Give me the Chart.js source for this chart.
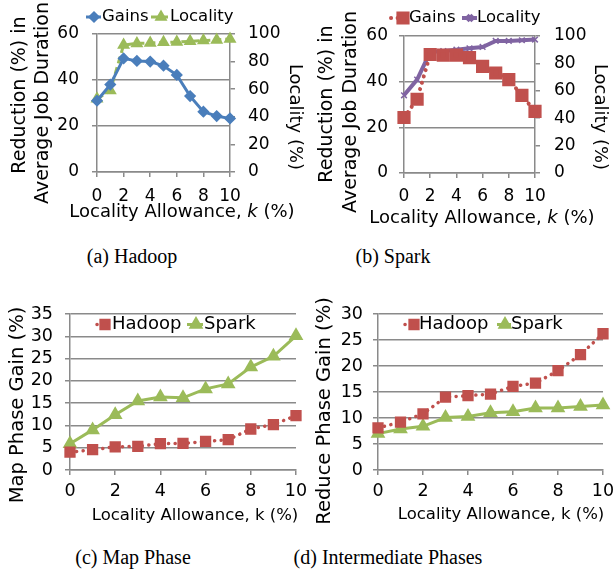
<!DOCTYPE html>
<html>
<head>
<meta charset="utf-8">
<script src="https://cdn.jsdelivr.net/npm/chart.js"></script>
<style>
body { margin: 0; background: #fff; width: 613px; height: 569px; position: relative; overflow: hidden; }
canvas { position: absolute; }
.cap { position: absolute; font-family: "Liberation Serif", serif; font-size: 20px; line-height: 22px; color: #000; white-space: nowrap; transform: translateX(-50%); }
</style>
</head>
<body>
<canvas id="chartA" width="305" height="235" style="left:0;top:0;width:305px;height:235px"></canvas>
<canvas id="chartB" width="308" height="235" style="left:305px;top:0;width:308px;height:235px"></canvas>
<canvas id="chartC" width="310" height="245" style="left:0;top:285px;width:310px;height:245px"></canvas>
<canvas id="chartD" width="308" height="245" style="left:305px;top:285px;width:308px;height:245px"></canvas>
<div class="cap" style="left:132px;top:245px">(a) Hadoop</div>
<div class="cap" style="left:393px;top:245px">(b) Spark</div>
<div class="cap" style="left:133px;top:546px">(c) Map Phase</div>
<div class="cap" style="left:388px;top:546px">(d) Intermediate Phases</div>
<script>
// data
var kVals = [0, 1, 2, 3, 4, 5, 6, 7, 8, 9, 10];
var kTicks = [0, 2, 4, 6, 8, 10];
var hadoopGains = [31, 38, 49.4, 48.3, 48, 46.2, 42.2, 33, 26.2, 24.3, 23.3];
var hadoopLocality = [53, 59, 92, 93.2, 93.5, 94, 94.2, 94.7, 95.2, 95.7, 96.4];
var sparkGains = [24.3, 32.3, 51.9, 51.6, 51.6, 50.5, 46.7, 43.8, 40.9, 34, 27];
var sparkLocality = [56.7, 68.2, 88.3, 89, 90, 91, 92, 96.4, 96.4, 96.9, 97.4];
var mapHadoop = [4, 4.55, 5.2, 5.3, 5.9, 5.95, 6.4, 6.8, 9.2, 10.2, 12.2];
var mapSpark = [5.9, 9, 12.4, 15.5, 16.4, 16.2, 18.2, 19.3, 23.1, 25.5, 30.1];
var reduceHadoop = [8.1, 9.2, 10.8, 14, 14.3, 14.6, 16.1, 16.7, 19.1, 22.2, 26.2];
var reduceSpark = [7, 7.9, 8.4, 10.1, 10.3, 11, 11.2, 11.9, 11.9, 12.2, 12.5];
var gainTicks = [0, 20, 40, 60];
var localityTicks = [0, 20, 40, 60, 80, 100];
var mapTicks = [0, 5, 10, 15, 20, 25, 30, 35];
var reduceTicks = [0, 5, 10, 15, 20, 25, 30];

var BLUE = '#4A7EBB', GREEN = '#9BBB59', RED = '#C0504D', PURPLE = '#8064A2';
var GRID = '#8a8a8a';
var FONT = '"DejaVu Sans"';

Chart.defaults.font.family = 'DejaVu Sans';
Chart.defaults.color = '#000';
Chart.defaults.animation = false;

function fixTicks(vals) {
    return function (s) { s.ticks = vals.map(function (v) { return { value: v }; }); };
}

function xScale(h, pad, size) {
    return {
        type: 'linear', min: 0, max: 10,
        grid: { drawOnChartArea: false, color: GRID, lineWidth: 1.5, tickLength: 5 },
        border: { color: GRID, width: 1.5 },
        ticks: { font: { size: size }, padding: pad, maxRotation: 0, autoSkip: false },
        afterBuildTicks: fixTicks(kTicks),
        afterFit: function (s) { s.height = h; s.paddingLeft = 0; s.paddingRight = 0; }
    };
}

function yScale(pos, w, max, vals, onArea, pad, size) {
    return {
        type: 'linear', position: pos, min: 0, max: max,
        grid: { drawOnChartArea: onArea, color: GRID, lineWidth: 1.5, tickLength: 5 },
        border: { color: GRID, width: 1.5 },
        ticks: { font: { size: size }, padding: pad, autoSkip: false },
        afterBuildTicks: fixTicks(vals),
        afterFit: function (s) { s.width = w; s.paddingTop = 0; s.paddingBottom = 0; }
    };
}

// legend: short line + marker + text, like the spreadsheet legend
var keyPlugin = {
    id: 'key',
    afterDraw: function (chart, args, opts) {
        var ctx = chart.ctx;
        opts.items.forEach(function (it, i) {
            var ds = chart.data.datasets[i];
            ctx.save();
            ctx.strokeStyle = ds.borderColor;
            ctx.lineWidth = ds.borderWidth;
            ctx.setLineDash(ds.borderDash || []);
            ctx.lineCap = ds.borderCapStyle || 'butt';
            ctx.beginPath();
            ctx.moveTo(it.x1, opts.y);
            ctx.lineTo(it.x2, opts.y);
            ctx.stroke();
            ctx.setLineDash([]);
            ctx.lineCap = 'butt';
            ctx.fillStyle = ds.borderColor;
            ctx.strokeStyle = ds.borderColor;
            Chart.helpers.drawPoint(ctx, {
                pointStyle: ds.pointStyle, radius: ds.pointRadius,
                borderWidth: ds.pointBorderWidth || 1, rotation: 0
            }, it.mx, opts.y);
            ctx.fillStyle = '#000';
            ctx.font = opts.size + 'px ' + FONT;
            ctx.textBaseline = 'middle';
            ctx.textAlign = 'left';
            ctx.fillText(ds.label, it.tx, opts.y);
            ctx.restore();
        });
    }
};

// axis titles (parts so the k can be italic)
var notePlugin = {
    id: 'notes',
    afterDraw: function (chart, args, opts) {
        var ctx = chart.ctx;
        opts.items.forEach(function (t) {
            ctx.save();
            ctx.translate(t.x, t.y);
            ctx.rotate(t.rot || 0);
            ctx.fillStyle = '#000';
            ctx.textBaseline = 'middle';
            ctx.textAlign = 'left';
            var w = 0;
            t.parts.forEach(function (p) {
                ctx.font = (p[1] ? 'italic ' : '') + t.size + 'px ' + FONT;
                w += ctx.measureText(p[0]).width;
            });
            var x = -w / 2;
            t.parts.forEach(function (p) {
                ctx.font = (p[1] ? 'italic ' : '') + t.size + 'px ' + FONT;
                ctx.fillText(p[0], x, 0);
                x += ctx.measureText(p[0]).width;
            });
            ctx.restore();
        });
    }
};

function dotted(label, data, color, r, yId) {
    return {
        label: label, data: data, yAxisID: yId || 'y',
        borderColor: color, backgroundColor: color, borderWidth: 3.5,
        borderDash: [0.1, 6.5], borderCapStyle: 'round',
        pointStyle: 'rect', pointRadius: r, pointBackgroundColor: color, pointBorderColor: color,
        tension: 0, clip: false
    };
}

var kTitle = [['Locality Allowance, ', 0], ['k', 1], [' (%)', 0]];
var kTitlePlain = [['Locality Allowance, k (%)', 0]];

// (a) Hadoop
new Chart(document.getElementById('chartA'), {
    type: 'line',
    data: {
        labels: kVals,
        datasets: [{
            label: 'Gains', data: hadoopGains, yAxisID: 'y',
            borderColor: BLUE, backgroundColor: BLUE, borderWidth: 3,
            pointStyle: 'rectRot', pointRadius: 4, pointBackgroundColor: BLUE, pointBorderColor: BLUE,
            tension: 0, clip: false
        }, {
            label: 'Locality', data: hadoopLocality, yAxisID: 'y2',
            borderColor: GREEN, backgroundColor: GREEN, borderWidth: 3, borderDash: [7, 4],
            pointStyle: 'triangle', pointRadius: 4.5, pointBackgroundColor: GREEN, pointBorderColor: GREEN,
            tension: 0, clip: false
        }]
    },
    options: {
        responsive: false,
        layout: { padding: { top: 34, left: 0, right: 0, bottom: 0 } },
        scales: {
            x: xScale(63, 9, 17),
            y: yScale('left', 97, 60, gainTicks, true, 13, 17),
            y2: yScale('right', 75, 100, localityTicks, false, 13, 17)
        },
        plugins: {
            legend: { display: false },
            tooltip: { enabled: false },
            key: { y: 17, size: 16.5, items: [{ x1: 86, x2: 101, mx: 94, tx: 102 }, { x1: 151, x2: 168, mx: 161, tx: 170 }] },
            notes: { items: [
                { parts: [['Reduction (%) in', 0]], x: 20, y: 95, rot: -Math.PI / 2, size: 19 },
                { parts: [['Average Job Duration', 0]], x: 43, y: 103, rot: -Math.PI / 2, size: 19 },
                { parts: [['Locality (%)', 0]], x: 295, y: 117, rot: Math.PI / 2, size: 18 },
                { parts: kTitle, x: 182, y: 212, size: 18 }
            ] }
        }
    },
    plugins: [keyPlugin, notePlugin]
});

// (b) Spark
var sparkGainSet = dotted('Gains', sparkGains, RED, 6.5, 'y');
sparkGainSet.borderWidth = 4;
new Chart(document.getElementById('chartB'), {
    type: 'line',
    data: {
        labels: kVals,
        datasets: [sparkGainSet, {
            label: 'Locality', data: sparkLocality, yAxisID: 'y2',
            borderColor: PURPLE, backgroundColor: PURPLE, borderWidth: 4,
            pointStyle: 'crossRot', pointRadius: 4, pointBorderWidth: 1.5, pointBorderColor: PURPLE,
            tension: 0, clip: false
        }]
    },
    options: {
        responsive: false,
        layout: { padding: { top: 36, left: 0, right: 0, bottom: 0 } },
        scales: {
            x: xScale(62, 8, 17),
            y: yScale('left', 99, 60, gainTicks, true, 11, 17),
            y2: yScale('right', 78, 100, localityTicks, false, 14, 17)
        },
        plugins: {
            legend: { display: false },
            tooltip: { enabled: false },
            key: { y: 18, size: 16.5, items: [{ x1: 86, x2: 100, mx: 98, tx: 104 }, { x1: 157, x2: 172, mx: 165, tx: 172 }] },
            notes: { items: [
                { parts: [['Reduction (%) in', 0]], x: 22, y: 104, rot: -Math.PI / 2, size: 19 },
                { parts: [['Average Job Duration', 0]], x: 46, y: 112, rot: -Math.PI / 2, size: 19 },
                { parts: [['Locality (%)', 0]], x: 295, y: 117, rot: Math.PI / 2, size: 18 },
                { parts: kTitle, x: 177, y: 218, size: 18 }
            ] }
        }
    },
    plugins: [keyPlugin, notePlugin]
});

// (c) and (d) share one layout
function phaseChart(id, hadoop, spark, max, ticks, leftW, padRight, tickPad, notes, keyItems) {
    new Chart(document.getElementById(id), {
        type: 'line',
        data: {
            labels: kVals,
            datasets: [dotted('Hadoop', hadoop, RED, 5.5, 'y'), {
                label: 'Spark', data: spark, yAxisID: 'y',
                borderColor: GREEN, backgroundColor: GREEN, borderWidth: 3,
                pointStyle: 'triangle', pointRadius: 5.5, pointBackgroundColor: GREEN, pointBorderColor: GREEN,
                tension: 0, clip: false
            }]
        },
        options: {
            responsive: false,
            layout: { padding: { top: 29, left: 0, right: padRight, bottom: 0 } },
            scales: {
                x: xScale(60, 6, 17.5),
                y: yScale('left', leftW, max, ticks, true, tickPad, 17.5)
            },
            plugins: {
                legend: { display: false },
                tooltip: { enabled: false },
                key: { y: 39.5, size: 18, items: keyItems },
                notes: { items: notes }
            }
        },
        plugins: [keyPlugin, notePlugin]
    });
}

phaseChart('chartC', mapHadoop, mapSpark, 35, mapTicks, 70, 14, 12, [
    { parts: [['Map Phase Gain (%)', 0]], x: 18, y: 120, rot: -Math.PI / 2, size: 19.5 },
    { parts: kTitlePlain, x: 195, y: 231, size: 16.5 }
], [{ x1: 97, x2: 110, mx: 105, tx: 112 }, { x1: 187, x2: 203, mx: 196, tx: 204 }]);

phaseChart('chartD', reduceHadoop, reduceSpark, 30, reduceTicks, 73, 10, 10, [
    { parts: [['Reduce Phase Gain (%)', 0]], x: 20, y: 126, rot: -Math.PI / 2, size: 19.5 },
    { parts: kTitlePlain, x: 196, y: 230, size: 16.5 }
], [{ x1: 100, x2: 112, mx: 109, tx: 114 }, { x1: 192, x2: 206, mx: 200, tx: 206 }]);
</script>
</body>
</html>
